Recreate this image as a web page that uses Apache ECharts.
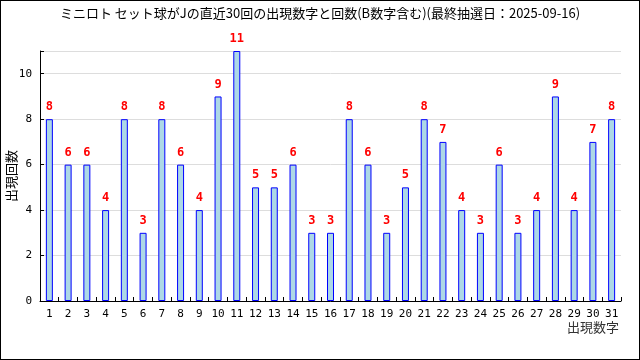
<!DOCTYPE html>
<html><head><meta charset="utf-8">
<script src="https://cdn.jsdelivr.net/npm/echarts@6/dist/echarts.min.js"></script>
<style>html,body{margin:0;padding:0;background:#fff}#c{width:640px;height:360px;box-sizing:border-box;border:1px solid #000}</style>
</head><body><div id="c"></div>
<script>
const titleText = "ミニロト セット球がJの直近30回の出現数字と回数(B数字含む)(最終抽選日：2025-09-16)";
const categories = ["1","2","3","4","5","6","7","8","9","10","11","12","13","14","15","16","17","18","19","20","21","22","23","24","25","26","27","28","29","30","31"];
const counts = [8,6,6,4,8,3,8,6,4,9,11,5,5,6,3,3,8,6,3,5,8,7,4,3,6,3,4,9,4,7,8];
const yTicks = [0,2,4,6,8,10];
const font = "'Noto Sans CJK JP', 'DejaVu Sans', sans-serif";
const mono = "'DejaVu Sans Mono', monospace";
const chart = echarts.init(document.getElementById('c'));
chart.setOption({
  animation:false,
  backgroundColor:'#fff',
  title:{text:titleText,left:'center',top:1,textStyle:{fontFamily:font,fontSize:13,fontWeight:'normal',color:'#000'}},
  grid:{left:39,right:18,top:50,bottom:58,containLabel:false,outerBoundsMode:'none'},
  xAxis:{type:'category',data:categories,
    name:'出現数字',nameLocation:'end',nameGap:0,nameMoveOverlap:false,
    nameTextStyle:{fontFamily:font,fontSize:13,color:'#333',align:'right',verticalAlign:'top',padding:[20,2,0,0]},
    axisLine:{lineStyle:{color:'#000',width:1}},
    axisTick:{show:true,inside:true,length:4,lineStyle:{color:'#000'}},
    axisLabel:{fontFamily:mono,fontSize:11,color:'#000',margin:8,interval:0}},
  yAxis:{type:'value',min:0,max:11,interval:2,
    name:'出現回数',nameLocation:'middle',nameGap:22,nameRotate:90,nameMoveOverlap:false,
    nameTextStyle:{fontFamily:font,fontSize:13,color:'#000'},
    axisLine:{show:true,lineStyle:{color:'#000',width:1}},
    axisTick:{show:true,inside:true,length:4,lineStyle:{color:'#000'}},
    axisLabel:{fontFamily:mono,fontSize:11,color:'#000',margin:8,
      formatter:v=>yTicks.includes(v)?String(v):''},
    splitLine:{lineStyle:{color:'#ddd'}}},
  series:[{type:'bar',data:counts,barWidth:7,
    itemStyle:{color:'#add8e6',borderColor:'#0000ff',borderWidth:1},
    label:{show:true,position:'top',distance:6,color:'#ff0000',fontFamily:mono,fontSize:12,fontWeight:'bold'}}]
});
</script></body></html>
